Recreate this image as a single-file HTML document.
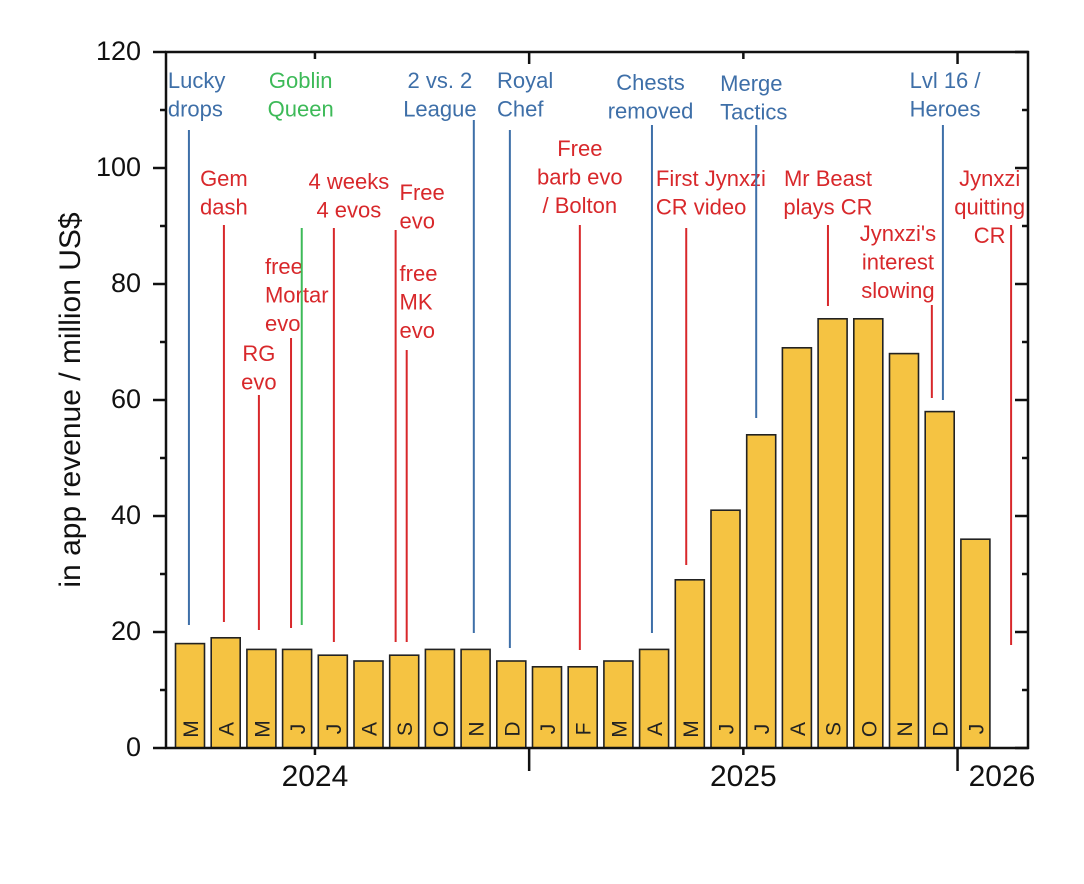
<!DOCTYPE html>
<html><head><meta charset="utf-8"><style>
html,body{margin:0;padding:0;background:#fff;}
svg{display:block;font-family:"Liberation Sans",Arial,sans-serif;}
</style></head><body>
<svg id="chart" width="1084" height="884" viewBox="0 0 1084 884"></svg>
<script>
const months = ["M","A","M","J","J","A","S","O","N","D","J","F","M","A","M","J","J","A","S","O","N","D","J"];
const revenue = [18,19,17,17,16,15,16,17,17,15,14,14,15,17,29,41,54,69,74,74,68,58,36];
const yTicks = [0,20,40,60,80,100,120];
const years = [{label:"2024",i:3.5},{label:"2025",i:15.5},{label:"2026",i:22.8}];
const yearDividers = [9.5,21.5];
const notes = [
 {t:["Lucky","drops"],c:"b",i:-0.03,ty:82,y1:130,y2:625,tx:-0.62,a:"start"},
 {t:["Gem","dash"],c:"r",i:0.95,ty:180,y1:225,y2:622,tx:0.95,a:"middle"},
 {t:["RG","evo"],c:"r",i:1.93,ty:355,y1:395,y2:630,tx:1.93,a:"middle"},
 {t:["free","Mortar","evo"],c:"r",i:2.83,ty:268,y1:338,y2:628,tx:2.1,a:"start"},
 {t:["Goblin","Queen"],c:"g",i:3.13,ty:82,y1:228,y2:625,tx:3.1,a:"middle"},
 {t:["4 weeks","4 evos"],c:"r",i:4.03,ty:183,y1:228,y2:642,tx:4.45,a:"middle"},
 {t:["Free","evo"],c:"r",i:5.76,ty:194,y1:230,y2:642,tx:5.87,a:"start"},
 {t:["free","MK","evo"],c:"r",i:6.07,ty:275,y1:350,y2:642,tx:5.87,a:"start"},
 {t:["2 vs. 2","League"],c:"b",i:7.95,ty:82,y1:120,y2:633,tx:7.0,a:"middle"},
 {t:["Royal","Chef"],c:"b",i:8.96,ty:82,y1:130,y2:648,tx:8.6,a:"start"},
 {t:["Free","barb evo","/ Bolton"],c:"r",i:10.92,ty:150,y1:225,y2:650,tx:10.92,a:"middle"},
 {t:["Chests","removed"],c:"b",i:12.94,ty:84,y1:125,y2:633,tx:12.9,a:"middle"},
 {t:["First Jynxzi","CR video"],c:"r",i:13.9,ty:180,y1:228,y2:565,tx:13.05,a:"start"},
 {t:["Merge","Tactics"],c:"b",i:15.86,ty:85,y1:125,y2:418,tx:14.85,a:"start"},
 {t:["Mr Beast","plays CR"],c:"r",i:17.87,ty:180,y1:225,y2:306,tx:17.87,a:"middle"},
 {t:["Jynxzi's","interest","slowing"],c:"r",i:20.78,ty:235,y1:305,y2:398,tx:19.83,a:"middle"},
 {t:["Lvl 16 /","Heroes"],c:"b",i:21.09,ty:82,y1:125,y2:400,tx:21.15,a:"middle"},
 {t:["Jynxzi","quitting","CR"],c:"r",i:23.0,ty:180,y1:225,y2:645,tx:22.4,a:"middle"}
];
const colors={b:"#3e6fa8",r:"#d8282b",g:"#3dba58"};
const svg=document.getElementById('chart');
const NS="http://www.w3.org/2000/svg";
const L=166,R=1028,T=52,B=748;
const x0=190,step=35.7,bw=29;
const xs=i=>x0+i*step;
const ys=v=>B-(v/120)*(B-T);
function mk(tag,attrs,parent){const e=document.createElementNS(NS,tag);for(const k in attrs)e.setAttribute(k,attrs[k]);(parent||svg).appendChild(e);return e;}
revenue.forEach((v,i)=>{
 const r=mk('rect',{x:xs(i)-bw/2,y:ys(v),width:bw,height:B-ys(v),fill:"#f5c342",stroke:"#222","stroke-width":1.6});
 
 
 const t=mk('text',{x:0,y:0,transform:`translate(${xs(i)+8},${B-19}) rotate(-90)`,"font-size":21,fill:"#222","text-anchor":"middle"});
 t.textContent=months[i];
 
 
});
notes.forEach(n=>{
 const g=mk('g',{});
 
 
 const x=xs(n.i), col=colors[n.c];
 mk('line',{x1:x,x2:x,y1:n.y1,y2:n.y2,stroke:col,"stroke-width":2},g);
 n.t.forEach((s,k)=>{
  const t=mk('text',{x:xs(n.tx),y:n.ty+k*28.5,fill:col,"font-size":22,"text-anchor":n.a,"dominant-baseline":"middle"},g);
  t.textContent=s;
 });
});
const ax=mk('g',{stroke:"#111","stroke-width":2.5,fill:"none"});


mk('line',{x1:L,x2:L,y1:T-1,y2:B+1},ax);
mk('line',{x1:R,x2:R,y1:T-1,y2:B+1},ax);
mk('line',{x1:L-1,x2:R+1,y1:B,y2:B},ax);
mk('line',{x1:L-1,x2:R+1,y1:T,y2:T},ax);
for(let v=0;v<=120;v+=10){
 const len=v%20===0?13:6;
 mk('line',{x1:L,x2:L-len,y1:ys(v),y2:ys(v)},ax);
 mk('line',{x1:R,x2:R-len,y1:ys(v),y2:ys(v)},ax);
}
yTicks.forEach(v=>{
 const t=mk('text',{x:141,y:ys(v)+1,"font-size":27,fill:"#111","text-anchor":"end","dominant-baseline":"middle"});
 t.textContent=v;
 
 
});
years.forEach(y=>{
 if(y.label!=="2026"){
  mk('line',{x1:xs(y.i),x2:xs(y.i),y1:B,y2:B+7},ax);
  mk('line',{x1:xs(y.i),x2:xs(y.i),y1:T,y2:T+7},ax);
 }
 const t=mk('text',{x:xs(y.i)+(y.label==="2026"?-2:0),y:B+38,"font-size":30,fill:"#111","text-anchor":"middle"});
 t.textContent=y.label;
 
 
});
yearDividers.forEach(d=>{
 mk('line',{x1:xs(d),x2:xs(d),y1:B,y2:B+23},ax);
 mk('line',{x1:xs(d),x2:xs(d),y1:T,y2:T+12},ax);
});
const yt=mk('text',{x:0,y:0,transform:"translate(80,400) rotate(-90)","font-size":30,fill:"#111","text-anchor":"middle"});
yt.textContent="in app revenue / million US$";


</script>
</body></html>
